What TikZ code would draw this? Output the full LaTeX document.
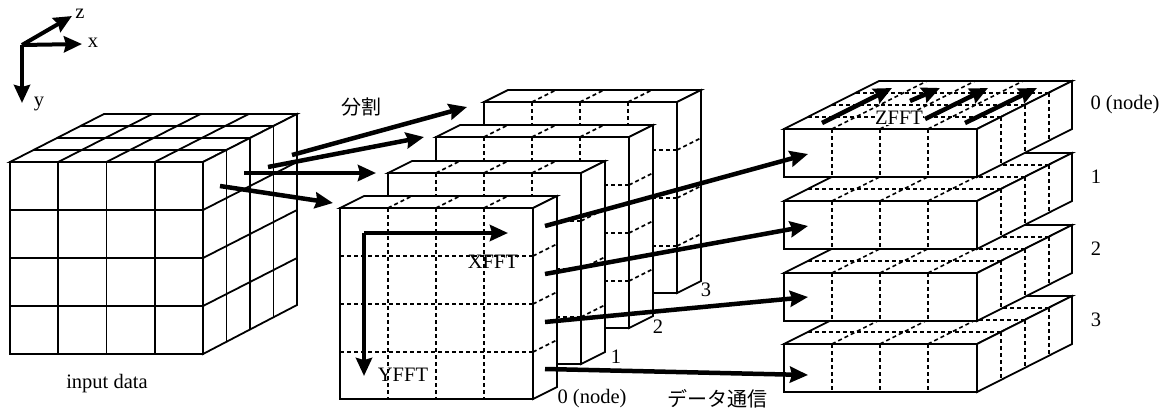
\documentclass[tikz,border=0pt]{standalone}
\usepackage{fontspec}
\setmainfont{Liberation Serif}
\newfontfamily\cjk{Noto Sans CJK JP}
\usepackage{tikz}
\usetikzlibrary{arrows.meta, calc}

\begin{document}
\begin{tikzpicture}[
  x=1pt, y=-1pt,
  edge/.style={line width=1.8pt, line join=miter},
  face/.style={edge, fill=white},
  cell/.style={line width=1.6pt, dash pattern=on 4pt off 3pt},
  flow/.style={line width=4.5pt, -{Stealth[length=18pt, width=16pt, inset=2pt]}},
  axis/.style={line width=4pt, -{Stealth[length=18pt, width=16pt, inset=2pt]}},
  label/.style={font=\fontsize{20.5}{23}\selectfont, inner sep=0pt},
  jlabel/.style={font=\cjk\fontsize{20}{22}\selectfont, inner sep=0pt}
]
  \useasboundingbox (0,0) rectangle (1161,407);

  % Axes
  \coordinate (org) at (22,45);
  \coordinate (zend) at (72,16);
  \coordinate (xend) at (82,44);
  \coordinate (yend) at (22,103);
  \draw[axis] (org) -- (zend);
  \draw[axis] (org) -- (xend);
  \draw[axis] (org) -- (yend);
  \node[label] (zlabel) at (80,14) {z};
  \node[label] (xlabel) at (93,43) {x};
  \node[label] (ylabel) at (39,104) {y};

  % Input data
  \draw[face] (10,162) rectangle (203,354);
  \draw[face] (10,162) -- (104,114) -- (297,114) -- (203,162) -- cycle;
  \draw[face] (203,162) -- (297,114) -- (297,305) -- (203,354) -- cycle;
  \foreach \i in {1,2,3} {
    \draw[edge] ($(10,162)+(48.25*\i,0)$) -- ++(0,192);
    \draw[edge] ($(10,162)+(0,48*\i)$) -- ++(193,0);
    \draw[edge] ($(10,162)+(48.25*\i,0)$) -- ++(94,-48);
    \draw[edge] ($(10,162)+(23.5*\i,-12*\i)$) -- ++(193,0);
    \draw[edge] ($(203,162)+(23.5*\i,-12*\i)$) -- ++(0,192);
    \draw[edge] ($(203,162)+(0,48*\i)$) -- ++(94,-48);
  }
  \node[label] (inputlabel) at (107,384) {input data};

  % Slabs 3 to 0
  \foreach \sx/\sy/\sname in {484/102/3, 436/137/2, 388/173/1, 340/208/0} {
    \begin{scope}[shift={(\sx,\sy)}]
      \draw[face] (0,0) rectangle (193,191);
      \draw[face] (0,0) -- (24,-12) -- (217,-12) -- (193,0) -- cycle;
      \draw[face] (193,0) -- (217,-12) -- (217,179) -- (193,191) -- cycle;
      \foreach \i in {1,2,3} {
        \draw[cell] (48*\i,0) -- ++(0,191);
        \draw[cell] (0,48*\i) -- ++(193,0);
        \draw[cell] (48*\i,0) -- ++(24,-12);
        \draw[cell] (193,48*\i) -- ++(24,-12);
      }
    \end{scope}
  }
  \node[label] (slabC) at (706,290) {3};
  \node[label] (slabB) at (658,327) {2};
  \node[label] (slabA) at (616,357) {1};
  \node[label] (slabO) at (592,399) {0 (node)};

  % Flat blocks 3 to 0
  \foreach \sy in {344,273,201,129} {
    \begin{scope}[shift={(784,\sy)}]
      \draw[face] (0,0) rectangle (193,48);
      \draw[face] (0,0) -- (95,-48) -- (288,-48) -- (193,0) -- cycle;
      \draw[face] (193,0) -- (288,-48) -- (288,0) -- (193,48) -- cycle;
      \foreach \i in {1,2,3} {
        \draw[cell] (48*\i,0) -- ++(0,48);
        \draw[cell] (48*\i,0) -- ++(95,-48);
        \draw[cell] (24*\i,-12*\i) -- ++(193,0);
        \draw[cell] (193+24*\i,-12*\i) -- ++(0,48);
      }
    \end{scope}
  }
  \node[label] (flatO) at (1125,105) {0 (node)};
  \node[label] (flatA) at (1096,177) {1};
  \node[label] (flatB) at (1096,249) {2};
  \node[label] (flatC) at (1096,320) {3};

  % Split arrows
  \coordinate (splitAs) at (292,155);
  \coordinate (splitAe) at (467,107);
  \coordinate (splitBs) at (268,167);
  \coordinate (splitBe) at (424,137);
  \coordinate (splitCs) at (244,173);
  \coordinate (splitCe) at (376,173);
  \coordinate (splitDs) at (220,186);
  \coordinate (splitDe) at (333,203);
  \draw[flow] (splitAs) -- (splitAe);
  \draw[flow] (splitBs) -- (splitBe);
  \draw[flow] (splitCs) -- (splitCe);
  \draw[flow] (splitDs) -- (splitDe);
  \node[jlabel] (splitlabel) at (361,107) {分割};

  % Transfer arrows
  \coordinate (sendA) at (545,226);
  \coordinate (recvA) at (808,154);
  \coordinate (sendB) at (545,274);
  \coordinate (recvB) at (808,226);
  \coordinate (sendC) at (545,322);
  \coordinate (recvC) at (808,297);
  \coordinate (sendD) at (545,369);
  \coordinate (recvD) at (808,375);
  \draw[flow] (sendA) -- (recvA);
  \draw[flow] (sendB) -- (recvB);
  \draw[flow] (sendC) -- (recvC);
  \draw[flow] (sendD) -- (recvD);
  \node[jlabel] (sendlabel) at (717,399) {データ通信};

  % XFFT, YFFT
  \coordinate (fftorg) at (364,233);
  \coordinate (xfftend) at (508,233);
  \coordinate (yfftend) at (364,376);
  \draw[flow] (fftorg) -- (xfftend);
  \draw[flow] (fftorg) -- (yfftend);
  \node[label] (xfft) at (493,262) {XFFT};
  \node[label] (yfft) at (403,375) {YFFT};

  % ZFFT
  \coordinate (zfftAs) at (822,123);
  \coordinate (zfftAe) at (892,88);
  \coordinate (zfftBs) at (910,101);
  \coordinate (zfftBe) at (940,88);
  \coordinate (zfftCs) at (925,119);
  \coordinate (zfftCe) at (988,88);
  \coordinate (zfftDs) at (965,123);
  \coordinate (zfftDe) at (1037,88);
  \draw[flow] (zfftAs) -- (zfftAe);
  \draw[flow] (zfftBs) -- (zfftBe);
  \draw[flow] (zfftCs) -- (zfftCe);
  \draw[flow] (zfftDs) -- (zfftDe);
  \node[label, fill=white] (zfft) at (899,118) {ZFFT};
\end{tikzpicture}
\end{document}
